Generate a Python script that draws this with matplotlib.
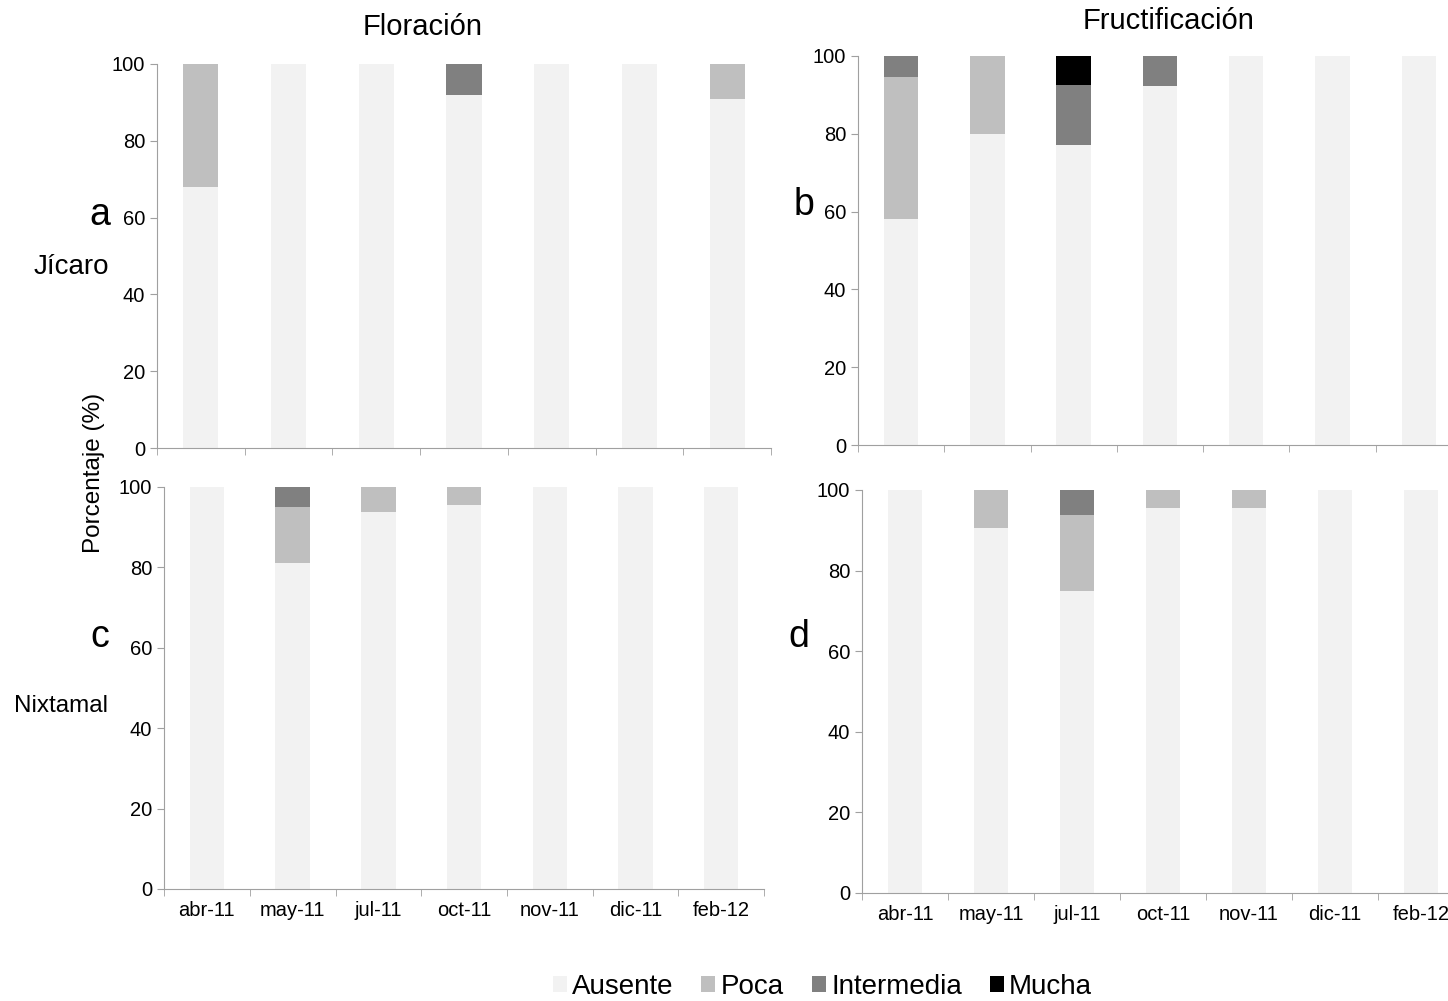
import numpy as np
import matplotlib.pyplot as plt

plt.rcParams['font.family'] = ['Liberation Sans', 'DejaVu Sans']

meses = ['abr-11', 'may-11', 'jul-11', 'oct-11', 'nov-11', 'dic-11', 'feb-12']
categorias = ['Ausente', 'Poca', 'Intermedia', 'Mucha']
colores = ['#f2f2f2', '#bfbfbf', '#808080', '#000000']

# a: floracion jicaro
flor_jic_ausente = [68, 100, 100, 92, 100, 100, 91]
flor_jic_poca = [32, 0, 0, 0, 0, 0, 9]
flor_jic_inter = [0, 0, 0, 8, 0, 0, 0]
flor_jic_mucha = [0, 0, 0, 0, 0, 0, 0]

# b: fructificacion jicaro
fruc_jic_ausente = [58, 80, 77, 92.3, 100, 100, 100]
fruc_jic_poca = [36.7, 20, 0, 0, 0, 0, 0]
fruc_jic_inter = [5.3, 0, 15.5, 7.7, 0, 0, 0]
fruc_jic_mucha = [0, 0, 7.5, 0, 0, 0, 0]

# c: floracion nixtamal
flor_nix_ausente = [100, 81, 93.8, 95.5, 100, 100, 100]
flor_nix_poca = [0, 14, 6.2, 4.5, 0, 0, 0]
flor_nix_inter = [0, 5, 0, 0, 0, 0, 0]
flor_nix_mucha = [0, 0, 0, 0, 0, 0, 0]

# d: fructificacion nixtamal
fruc_nix_ausente = [100, 90.6, 75, 95.5, 95.5, 100, 100]
fruc_nix_poca = [0, 9.4, 18.8, 4.5, 4.5, 0, 0]
fruc_nix_inter = [0, 0, 6.2, 0, 0, 0, 0]
fruc_nix_mucha = [0, 0, 0, 0, 0, 0, 0]

fig = plt.figure(figsize=(14.48, 10.01), dpi=100)

posiciones = {
    'a': [0.1084, 0.5524, 0.4241, 0.3837],
    'b': [0.5925, 0.5554, 0.4171, 0.3887],
    'c': [0.1133, 0.1119, 0.4144, 0.4016],
    'd': [0.5953, 0.1079, 0.4157, 0.4026],
}
datos = {
    'a': [flor_jic_ausente, flor_jic_poca, flor_jic_inter, flor_jic_mucha],
    'b': [fruc_jic_ausente, fruc_jic_poca, fruc_jic_inter, fruc_jic_mucha],
    'c': [flor_nix_ausente, flor_nix_poca, flor_nix_inter, flor_nix_mucha],
    'd': [fruc_nix_ausente, fruc_nix_poca, fruc_nix_inter, fruc_nix_mucha],
}

x = np.arange(len(meses))
ejes = {}
for k in ['a', 'b', 'c', 'd']:
    ax = fig.add_axes(posiciones[k])
    ejes[k] = ax
    base = np.zeros(len(meses))
    for serie, col, cat in zip(datos[k], colores, categorias):
        serie = np.array(serie, dtype=float)
        ax.bar(x, serie, bottom=base, width=0.4, color=col, label=cat)
        base += serie
    ax.set_xlim(-0.5, len(meses) - 0.5)
    ax.set_ylim(0, 100)
    ax.set_yticks([0, 20, 40, 60, 80, 100])
    for s in ['top', 'right']:
        ax.spines[s].set_visible(False)
    for s in ['left', 'bottom']:
        ax.spines[s].set_color('#a0a0a0')
    ax.tick_params(axis='y', colors='#a0a0a0', labelcolor='black', labelsize=14.5, length=5)
    ax.set_xticks(np.arange(len(meses) + 1) - 0.5, minor=True)
    ax.tick_params(axis='x', which='minor', colors='#a0a0a0', length=5)
    if k in ['c', 'd']:
        ax.set_xticks(x)
        ax.set_xticklabels(meses)
        ax.tick_params(axis='x', which='major', length=0, labelsize=14.5, pad=9)
    else:
        ax.set_xticks([])

fig.text(0.292, 0.973, 'Floración', ha='center', va='center', fontsize=21)
fig.text(0.807, 0.979, 'Fructificación', ha='center', va='center', fontsize=21)

fig.text(0.069, 0.785, 'a', ha='center', va='center', fontsize=27)
fig.text(0.555, 0.795, 'b', ha='center', va='center', fontsize=27)
fig.text(0.069, 0.364, 'c', ha='center', va='center', fontsize=27)
fig.text(0.552, 0.364, 'd', ha='center', va='center', fontsize=27)
fig.text(0.049, 0.733, 'Jícaro', ha='center', va='center', fontsize=20)
fig.text(0.042, 0.295, 'Nixtamal', ha='center', va='center', fontsize=17.5)
fig.text(0.065, 0.528, 'Porcentaje (%)', ha='center', va='center', rotation=90, fontsize=17.5)

handles, labels = ejes['b'].get_legend_handles_labels()
fig.legend(handles, labels, loc='center', bbox_to_anchor=(0.568, 0.014), ncol=4,
           frameon=False, fontsize=20, handlelength=0.5, handleheight=0.5,
           handletextpad=0.2, columnspacing=1.0)

fig.savefig('out.png', dpi=100)
